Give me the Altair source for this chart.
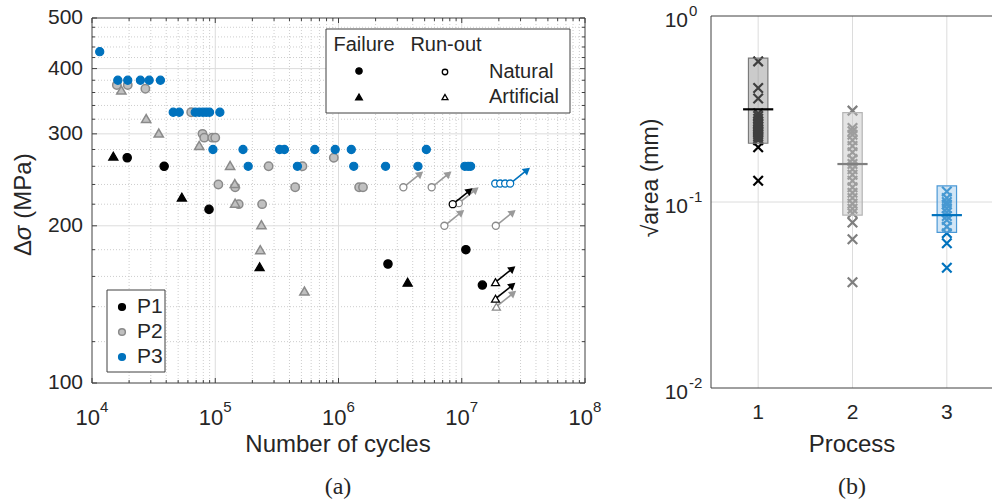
import altair as alt
import pandas as pd
import numpy as np

# ================= panel (a): S-N data =================
# P1 (black)
p1_fail_nat_N = [1.93e4, 3.85e4, 8.9e4, 2.52e6, 1.08e7, 1.47e7]
p1_fail_nat_S = [270, 260, 215, 169, 180, 154]
p1_fail_art_N = [1.49e4, 5.36e4, 2.29e5, 3.64e6]
p1_fail_art_S = [272, 227, 167, 156]
p1_run_nat_N = [8.45e6]
p1_run_nat_S = [220]
p1_run_art_N = [1.88e7, 1.88e7]
p1_run_art_S = [156, 145]

# P2 (grey)
p2_fail_nat_N = [1.59e4, 1.95e4, 2.71e4, 6.38e4, 7.88e4, 8.14e4, 9.46e4, 1.0e5, 1.06e5,
                 1.45e5, 1.55e5, 2.4e5, 2.71e5, 4.45e5, 5.1e5, 9.16e5, 1.47e6, 1.58e6]
p2_fail_nat_S = [372, 372, 366, 330, 300, 295, 295, 295, 240,
                 237, 220, 220, 260, 237, 260, 270, 237, 237]
p2_fail_art_N = [1.73e4, 2.75e4, 3.48e4, 7.41e4, 1.32e5, 1.44e5, 1.45e5, 2.37e5, 2.32e5, 5.29e5]
p2_fail_art_S = [364, 321, 301, 285, 261, 241, 221, 201, 180, 150]
p2_run_nat_N = [3.36e6, 5.7e6, 7.23e6, 9.46e6, 1.89e7]
p2_run_nat_S = [237, 237, 200, 221, 200]
p2_run_art_N = [1.91e7]
p2_run_art_S = [140]

# P3 (blue)
p3_fail_nat_N = [1.155e4,
                 1.62e4, 1.95e4, 2.47e4, 2.91e4, 3.59e4,
                 4.56e4, 5.1e4, 6.88e4, 7.41e4, 7.94e4, 8.45e4, 8.99e4, 1.09e5,
                 9.58e4, 1.68e5, 3.33e5, 3.64e5, 6.42e5, 9.4e5, 1.27e6, 5.16e6,
                 1.85e5, 4.64e5, 1.33e6, 2.41e6, 4.41e6, 1.06e7, 1.125e7, 1.18e7]
p3_fail_nat_S = [431,
                 380, 380, 380, 380, 380,
                 330, 330, 330, 330, 330, 330, 330, 330,
                 280, 280, 280, 280, 280, 280, 280, 280,
                 260, 260, 260, 260, 260, 260, 260, 260]
p3_run_nat_N = [1.87e7, 2.05e7, 2.25e7, 2.47e7]
p3_run_nat_S = [241, 241, 241, 241]
p3_run_arrow = [False, False, False, True]

# ================= panel (b): defect size =================
proc1_vals = [0.57, 0.41, 0.36, 0.30, 0.29, 0.28, 0.27, 0.265, 0.26, 0.255, 0.25, 0.245,
              0.24, 0.235, 0.23, 0.225, 0.22, 0.215, 0.197, 0.13]
proc2_vals = [0.31, 0.25, 0.24, 0.23, 0.215, 0.2, 0.185, 0.17, 0.16, 0.15, 0.14, 0.13,
              0.12, 0.112, 0.105, 0.098, 0.092, 0.087, 0.0775, 0.063, 0.037]
proc3_vals = [0.114, 0.105, 0.1, 0.097, 0.0925, 0.088, 0.084, 0.08, 0.0737, 0.068,
              0.06, 0.0443]
box_proc = [1, 2, 3]
box_lo = [0.207, 0.085, 0.0687]
box_hi = [0.593, 0.302, 0.122]
box_med = [0.315, 0.16, 0.085]

# axis tick values
xa_major = [1e4, 1e5, 1e6, 1e7, 1e8]
xa_exp = ["4", "5", "6", "7", "8"]
ya_major = [100, 200, 300, 400, 500]
yb_major = [1, 0.1, 0.01]
yb_exp = ["0", "-1", "-2"]
xb_ticks = [1, 2, 3]

# ================= styling =================
SANS = "Liberation Sans"
SERIF = "Liberation Serif"
TXT = "#262626"
AX = "#404040"
BLACK = "#000000"
GREY_F = "#c0c0c0"
GREY_S = "#8a8a8a"
GREY_A = "#9a9a9a"
BLUE = "#0072BD"
MAJ = "#dcdcdc"
MIN = "#cdcdcd"

xL = alt.Scale(type="log", domain=[1e4, 1e8], range=[92, 585], nice=False)
yL = alt.Scale(type="log", domain=[100, 500], range=[383, 18], nice=False)
xR = alt.Scale(type="linear", domain=[0.5, 3.5], range=[711, 994], nice=False, zero=False)
yR = alt.Scale(type="log", domain=[0.01, 1], range=[388, 16], nice=False)


def XL(f):
    return alt.X(f, type="quantitative", scale=xL, axis=None)


def YL(f):
    return alt.Y(f, type="quantitative", scale=yL, axis=None)


def XR(f):
    return alt.X(f, type="quantitative", scale=xR, axis=None)


def YR(f):
    return alt.Y(f, type="quantitative", scale=yR, axis=None)


one = pd.DataFrame({"k": [0]})


def label(txt, x, y, size=21, align="center", angle=0, font=SANS, color=TXT, style="normal"):
    return alt.Chart(one).mark_text(text=txt, fontSize=size, align=align, angle=angle,
                                    font=font, baseline="middle", color=color,
                                    fontStyle=style).encode(x=alt.value(x), y=alt.value(y))


# ---------------- panel (a) layers ----------------
left = []

# grid
minor_x = [m * 10 ** e for e in range(4, 8) for m in range(2, 10)]
minor_y = [v for v in range(120, 500, 20) if v not in (200, 300, 400)]
left.append(alt.Chart(pd.DataFrame({"v": minor_x})).mark_rule(color=MIN, strokeWidth=1, strokeDash=[1, 2]).encode(
    x=XL("v"), y=alt.value(18), y2=alt.value(383)))
left.append(alt.Chart(pd.DataFrame({"v": minor_y})).mark_rule(color=MIN, strokeWidth=1, strokeDash=[1, 2]).encode(
    y=YL("v"), x=alt.value(92), x2=alt.value(585)))
left.append(alt.Chart(pd.DataFrame({"v": xa_major[1:-1]})).mark_rule(color=MAJ, strokeWidth=1).encode(
    x=XL("v"), y=alt.value(18), y2=alt.value(383)))
left.append(alt.Chart(pd.DataFrame({"v": ya_major[1:-1]})).mark_rule(color=MAJ, strokeWidth=1).encode(
    y=YL("v"), x=alt.value(92), x2=alt.value(585)))

# inward ticks
for (y0, y1, vals) in [(383, 378, xa_major), (18, 23, xa_major), (383, 380, minor_x), (18, 21, minor_x)]:
    left.append(alt.Chart(pd.DataFrame({"v": vals})).mark_rule(color=AX, strokeWidth=1).encode(
        x=XL("v"), y=alt.value(y0), y2=alt.value(y1)))
for (x0, x1, vals) in [(92, 97, ya_major), (585, 580, ya_major), (92, 95, minor_y), (585, 582, minor_y)]:
    left.append(alt.Chart(pd.DataFrame({"v": vals})).mark_rule(color=AX, strokeWidth=1).encode(
        y=YL("v"), x=alt.value(x0), x2=alt.value(x1)))

# arrows for run-outs
ARR_X = 10 ** (17 / 123.25)
ARR_Y = 10 ** (13.6 / 522)


def arrows(N, S, color, flags=None):
    df = pd.DataFrame({"N": N, "S": S})
    if flags is not None:
        df = df[np.array(flags)]
    df = df.assign(N2=df["N"] * ARR_X, S2=df["S"] * ARR_Y)
    shaft = alt.Chart(df).mark_rule(color=color, strokeWidth=1.6).encode(
        x=XL("N"), y=YL("S"), x2="N2", y2="S2")
    head = alt.Chart(df).mark_point(shape="triangle-up", angle=51, filled=True, color=color,
                                    size=70, opacity=1).encode(x=XL("N2"), y=YL("S2"))
    return [shaft, head]


def pts(N, S, shape, fill, stroke, size=64, sw=1.2):
    df = pd.DataFrame({"N": N, "S": S})
    return alt.Chart(df).mark_point(shape=shape, filled=True, fill=fill, stroke=stroke,
                                    strokeWidth=sw, size=size, opacity=1, fillOpacity=1,
                                    strokeOpacity=1).encode(x=XL("N"), y=YL("S"))


# P2
left += arrows(p2_run_nat_N, p2_run_nat_S, GREY_A)
left += arrows(p2_run_art_N, p2_run_art_S, GREY_A)
left.append(pts(p2_fail_nat_N, p2_fail_nat_S, "circle", GREY_F, GREY_S, 70, 1.5))
left.append(pts(p2_fail_art_N, p2_fail_art_S, "triangle-up", GREY_F, GREY_S, 85, 1.5))
left.append(pts(p2_run_nat_N, p2_run_nat_S, "circle", "white", GREY_S, 50, 1.3))
left.append(pts(p2_run_art_N, p2_run_art_S, "triangle-up", "white", GREY_S, 64, 1.3))
# P1
left += arrows(p1_run_nat_N, p1_run_nat_S, BLACK)
left += arrows(p1_run_art_N, p1_run_art_S, BLACK)
left.append(pts(p1_fail_nat_N, p1_fail_nat_S, "circle", BLACK, BLACK, 70))
left.append(pts(p1_fail_art_N, p1_fail_art_S, "triangle-up", BLACK, BLACK, 85))
left.append(pts(p1_run_nat_N, p1_run_nat_S, "circle", "white", BLACK, 50, 1.3))
left.append(pts(p1_run_art_N, p1_run_art_S, "triangle-up", "white", BLACK, 64, 1.3))
# P3
left += arrows(p3_run_nat_N, p3_run_nat_S, BLUE, p3_run_arrow)
left.append(pts(p3_fail_nat_N, p3_fail_nat_S, "circle", BLUE, BLUE, 66))
left.append(pts(p3_run_nat_N, p3_run_nat_S, "circle", "white", BLUE, 50, 1.3))

# frame
frameL = pd.DataFrame({"a": [xa_major[0]], "b": [xa_major[-1]], "c": [ya_major[0]], "d": [ya_major[-1]]})
left.append(alt.Chart(frameL).mark_rect(fillOpacity=0, stroke=AX, strokeWidth=1).encode(
    x=XL("a"), x2="b", y=YL("c"), y2="d"))

# tick labels
left.append(alt.Chart(pd.DataFrame({"v": ya_major, "t": [str(v) for v in ya_major]})).mark_text(
    align="right", baseline="middle", fontSize=21, font=SANS, color=TXT).encode(
    x=alt.value(83), y=YL("v"), text="t:N"))
xl_df = pd.DataFrame({"v": xa_major, "e": xa_exp, "b": ["10"] * len(xa_major)})
left.append(alt.Chart(xl_df).mark_text(align="right", baseline="middle", fontSize=22, font=SANS,
                                       color=TXT, dx=8).encode(x=XL("v"), y=alt.value(418), text="b:N"))
left.append(alt.Chart(xl_df).mark_text(align="left", baseline="middle", fontSize=15, font=SANS,
                                       color=TXT, dx=8).encode(x=XL("v"), y=alt.value(407), text="e:N"))

# legend 1 (Failure / Run-out)
left.append(alt.Chart(one).mark_rect(fill="white", stroke=AX, strokeWidth=1).encode(
    x=alt.value(326), x2=alt.value(570), y=alt.value(29), y2=alt.value(113)))
left.append(label("Failure", 364, 45, 20))
left.append(label("Run-out", 446, 45, 20))
left.append(label("Natural", 489, 72, 20, align="left"))
left.append(label("Artificial", 489, 97, 20, align="left"))
leg_sym = [
    (359, 71, "circle", BLACK, BLACK, 40),
    (445, 72, "circle", "white", BLACK, 30),
    (359, 97, "triangle-up", BLACK, BLACK, 45),
    (445, 97, "triangle-up", "white", BLACK, 35),
]
for (sx, sy, sh, f, s, sz) in leg_sym:
    left.append(alt.Chart(one).mark_point(shape=sh, filled=True, fill=f, stroke=s, strokeWidth=1.3,
                                          size=sz, opacity=1).encode(x=alt.value(sx), y=alt.value(sy)))

# legend 2 (P1/P2/P3)
left.append(alt.Chart(one).mark_rect(fill="white", stroke=AX, strokeWidth=1).encode(
    x=alt.value(107), x2=alt.value(165), y=alt.value(290), y2=alt.value(372)))
for (sy, f, s, t) in [(307, BLACK, BLACK, "P1"), (332, GREY_F, GREY_S, "P2"), (357, BLUE, BLUE, "P3")]:
    left.append(alt.Chart(one).mark_point(shape="circle", filled=True, fill=f, stroke=s, strokeWidth=1.5,
                                          size=45, opacity=1).encode(x=alt.value(122), y=alt.value(sy)))
    left.append(label(t, 137, sy, 21, align="left"))

# titles
left.append(label("Number of cycles", 338, 445, 24))
left.append(label("(a)", 338, 487, 24, font=SERIF))
left.append(label("Δ", 24, 248, 24, angle=270))
left.append(label("σ", 24, 233, 24, angle=270, style="italic"))
left.append(label("(MPa)", 24, 186, 24, angle=270))

leftChart = alt.layer(*left)

# ---------------- panel (b) layers ----------------
right = []
right.append(alt.Chart(pd.DataFrame({"p": xb_ticks})).mark_rule(color=MAJ, strokeWidth=1).encode(
    x=XR("p"), y=alt.value(16), y2=alt.value(388)))
right.append(alt.Chart(pd.DataFrame({"v": [0.1]})).mark_rule(color=MAJ, strokeWidth=1).encode(
    y=YR("v"), x=alt.value(711), x2=alt.value(994)))

cross_path = "M-1,-1L1,1M-1,1L1,-1"
vals_df = pd.concat([
    pd.DataFrame({"p": 1, "v": proc1_vals}),
    pd.DataFrame({"p": 2, "v": proc2_vals}),
    pd.DataFrame({"p": 3, "v": proc3_vals}),
])
box_df = pd.DataFrame({"p": box_proc, "lo": box_lo, "hi": box_hi, "med": box_med})
pcol = [BLACK, "#7f7f7f", BLUE]
bfill = ["#8c8c8c", "#c4c4c4", "#9cc8ea"]
bstroke = ["#7a7a7a", "#b5b5b5", "#4a98d6"]
bop = [0.45, 0.45, 0.45]
for i, p in enumerate(box_proc):
    right.append(alt.Chart(vals_df).transform_filter(alt.datum.p == p).mark_point(
        shape=cross_path, filled=False, color=pcol[i], strokeWidth=2.2, size=90, opacity=1).encode(
        x=XR("p"), y=YR("v")))
    right.append(alt.Chart(box_df).transform_filter(alt.datum.p == p).transform_calculate(
        x1="datum.p - 0.103", x2="datum.p + 0.103").mark_rect(
        fill=bfill[i], fillOpacity=bop[i], stroke=bstroke[i], strokeWidth=1.2).encode(
        x=XR("x1"), x2="x2", y=YR("lo"), y2="hi"))
    right.append(alt.Chart(box_df).transform_filter(alt.datum.p == p).transform_calculate(
        x1="datum.p - 0.16", x2="datum.p + 0.16").mark_rule(
        color=pcol[i], strokeWidth=2.2).encode(x=XR("x1"), x2="x2", y=YR("med")))

frameR = pd.DataFrame({"a": [0.5], "b": [3.5], "c": [yb_major[-1]], "d": [yb_major[0]]})
right.append(alt.Chart(frameR).mark_rect(fillOpacity=0, stroke=AX, strokeWidth=1).encode(
    x=XR("a"), x2="b", y=YR("c"), y2="d"))

right.append(alt.Chart(pd.DataFrame({"p": xb_ticks, "t": [str(p) for p in xb_ticks]})).mark_text(
    align="center", baseline="middle", fontSize=21, font=SANS, color=TXT).encode(
    x=XR("p"), y=alt.value(413), text="t:N"))
yb_df = pd.DataFrame({"v": yb_major, "e": yb_exp, "b": ["10"] * 3})
right.append(alt.Chart(yb_df).mark_text(align="right", baseline="middle", fontSize=21, font=SANS,
                                        color=TXT, dy=5).encode(x=alt.value(688), y=YR("v"), text="b:N"))
right.append(alt.Chart(yb_df).mark_text(align="left", baseline="middle", fontSize=15, font=SANS,
                                        color=TXT, dy=-5).encode(x=alt.value(689), y=YR("v"), text="e:N"))

right.append(label("Process", 852, 445, 24))
right.append(label("(b)", 852, 487, 24, font=SERIF))
right.append(label("√area (mm)", 651, 178, 23, angle=270))

rightChart = alt.layer(*right)

chart = alt.layer(leftChart, rightChart).resolve_scale(
    x="independent", y="independent"
).properties(
    width=992, height=502, autosize=alt.AutoSizeParams(type="none"), padding=0,
    background="white"
).configure_view(stroke=None)

chart.save("out.html", embed_options={"renderer": "svg", "actions": False})
